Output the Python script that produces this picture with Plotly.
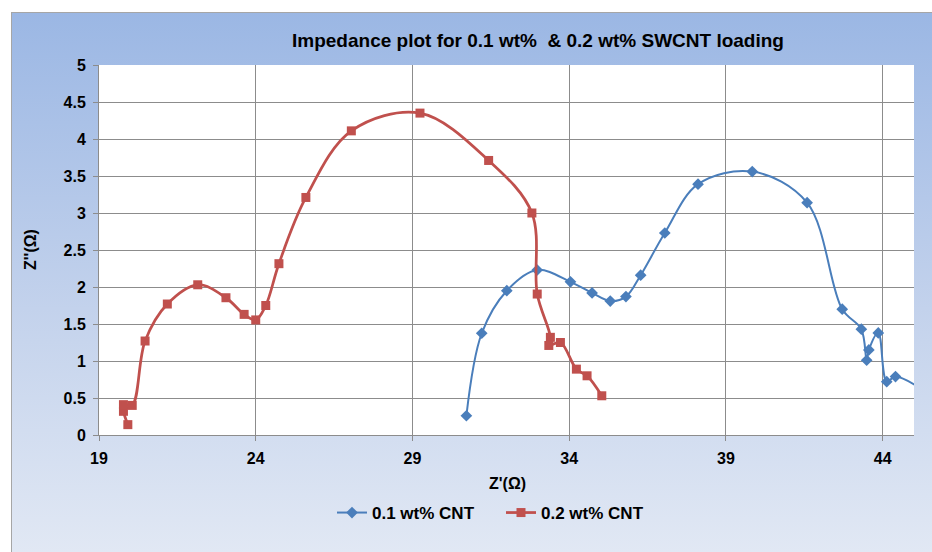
import base64
import plotly.graph_objects as go

# Nyquist data, 0.1 wt% SWCNT
z_re_01 = [30.72, 31.21, 32.01, 32.98, 34.04, 34.73, 35.31, 35.81, 36.28, 37.05,
           38.11, 39.84, 41.59, 42.71, 43.32, 43.49, 43.56, 43.86, 44.13, 44.41, 45.9]
z_im_01 = [0.26, 1.375, 1.95, 2.23, 2.07, 1.92, 1.81, 1.87, 2.16, 2.73,
           3.39, 3.56, 3.14, 1.70, 1.43, 1.01, 1.15, 1.38, 0.72, 0.79, 0.43]

# Nyquist data, 0.2 wt% SWCNT
z_re_02 = [19.92, 19.78, 19.78, 20.06, 20.47, 21.18, 22.15, 23.05, 23.63, 24.00,
           24.32, 24.74, 25.60, 27.05, 29.24, 31.43, 32.81, 32.98, 33.40, 33.35,
           33.72, 34.23, 34.57, 35.04]
z_im_02 = [0.14, 0.32, 0.41, 0.40, 1.27, 1.77, 2.03, 1.855, 1.63, 1.555,
           1.75, 2.315, 3.21, 4.11, 4.35, 3.71, 3.0, 1.905, 1.32, 1.21,
           1.25, 0.89, 0.80, 0.53]

x_ticks = [19, 24, 29, 34, 39, 44]

W, H = 932, 552
ML, MR, MT, MB = 99, 18, 65, 117
PW, PH = W - ML - MR, H - MT - MB

FONT = "Liberation Sans, Arial, sans-serif"

# Chart-area background: vertical blue gradient with a thin frame on top/left
bx0, by0 = 11, 12
bw, bh = W - bx0, H - by0
svg = f'''<svg xmlns="http://www.w3.org/2000/svg" width="{bw}" height="{bh}" viewBox="0 0 {bw} {bh}" preserveAspectRatio="none">
<defs><linearGradient id="g" x1="0" y1="0" x2="0" y2="1">
<stop offset="0" stop-color="#9bb7e4"/><stop offset="0.55" stop-color="#c3d2ec"/><stop offset="1" stop-color="#e1e8f4"/>
</linearGradient></defs>
<rect x="0" y="0" width="{bw}" height="{bh}" fill="url(#g)"/>
<line x1="0" y1="0.5" x2="{bw}" y2="0.5" stroke="#a6a6a6" stroke-width="1"/>
<line x1="0.5" y1="0" x2="0.5" y2="{bh}" stroke="#a6a6a6" stroke-width="1"/>
</svg>'''
bg_src = "data:image/svg+xml;base64," + base64.b64encode(svg.encode()).decode()

fig = go.Figure()
fig.add_trace(go.Scatter(
    x=z_re_01, y=z_im_01, mode="lines+markers", name="0.1 wt% CNT",
    line=dict(color="#4a7ebb", width=2, shape="spline", smoothing=1.0),
    marker=dict(symbol="diamond", size=9, color="#4a7ebb"),
))
fig.add_trace(go.Scatter(
    x=z_re_02, y=z_im_02, mode="lines+markers", name="0.2 wt% CNT",
    line=dict(color="#c0504d", width=2.75, shape="spline", smoothing=1.0),
    marker=dict(symbol="square", size=9, color="#c0504d"),
))

fig.update_layout(
    width=W, height=H,
    margin=dict(l=ML, r=MR, t=MT, b=MB),
    paper_bgcolor="white",
    plot_bgcolor="white",
    font=dict(family=FONT, size=16, color="black", weight="bold"),
    title=dict(text="Impedance plot for 0.1 wt%  & 0.2 wt% SWCNT loading",
               x=538 / W, xanchor="center", y=1 - 40 / H, yanchor="middle",
               font=dict(size=19, family=FONT, weight="bold")),
    showlegend=True,
    legend=dict(orientation="h", x=501 / W, xref="container", xanchor="center",
                y=1 - 513 / H, yref="container", yanchor="middle",
                bgcolor="rgba(0,0,0,0)", font=dict(size=17, family=FONT, weight="bold"),
                entrywidth=124, entrywidthmode="pixels", tracegroupgap=0),
    xaxis=dict(range=[19, 45], tickmode="array", tickvals=x_ticks,
               ticktext=[str(v) for v in x_ticks],
               showgrid=True, gridcolor="#8c8c8c", gridwidth=1,
               showline=True, linecolor="#8c8c8c", linewidth=1,
               ticks="outside", ticklen=5, tickcolor="#8c8c8c",
               zeroline=False, tickfont=dict(size=16), ticklabelstandoff=4),
    yaxis=dict(range=[0, 5], dtick=0.5, tick0=0,
               showgrid=True, gridcolor="#8c8c8c", gridwidth=1,
               showline=True, linecolor="#8c8c8c", linewidth=1,
               ticks="outside", ticklen=5, tickcolor="#8c8c8c",
               zeroline=False, tickfont=dict(size=16), ticklabelstandoff=4),
    annotations=[
        dict(text="Z'(Ω)", xref="paper", yref="paper",
             x=(507 - ML) / PW, y=(H - MB - 483) / PH, xanchor="center", yanchor="middle",
             showarrow=False, font=dict(size=16, family=FONT, weight="bold")),
        dict(text="Z''(Ω)", xref="paper", yref="paper", textangle=-90,
             x=(30 - ML) / PW, y=(H - MB - 250) / PH, xanchor="center", yanchor="middle",
             showarrow=False, font=dict(size=16, family=FONT, weight="bold")),
    ],
    images=[dict(source=bg_src, xref="paper", yref="paper",
                 x=(bx0 - ML) / PW, y=(H - MB - by0) / PH,
                 sizex=bw / PW, sizey=bh / PH,
                 xanchor="left", yanchor="top", sizing="stretch", layer="below")],
    shapes=[dict(type="rect", xref="paper", yref="paper", x0=0, x1=1, y0=0, y1=1,
                 fillcolor="white", line=dict(width=0), layer="below")],
)

fig.write_html("out.html")
